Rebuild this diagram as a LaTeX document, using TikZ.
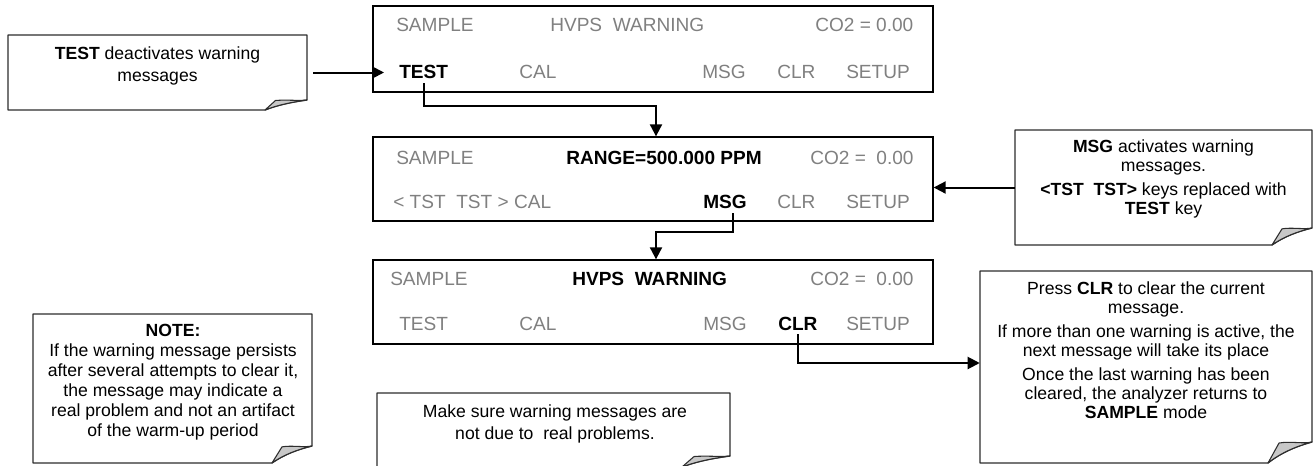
\documentclass[tikz,border=0pt]{standalone}
\usepackage{fontspec}
\setmainfont{Liberation Sans}
\usetikzlibrary{arrows.meta,calc}
\definecolor{scrgray}{RGB}{128,128,128}
\definecolor{foldgray}{RGB}{200,200,200}
\definecolor{boxline}{RGB}{45,45,45}
\newcommand\foldoutline[6]{%
  \draw[pageline] (#1,#2) -- (#3,#2) -- (#3,{#4-#6})
    .. controls ({#3-0.35*#5},{#4-0.8*#6}) and ({#3-0.7*#5},{#4-0.5*#6}) .. ({#3-#5},#4)
    -- (#1,#4) -- cycle;
  \draw[pagefold] ({#3-#5},#4) -- ({#3-0.75*#5},{#4-0.95*#6})
    .. controls ({#3-0.5*#5},{#4-1.05*#6}) and ({#3-0.2*#5},{#4-0.9*#6}) .. (#3,{#4-#6})
    .. controls ({#3-0.35*#5},{#4-0.8*#6}) and ({#3-0.7*#5},{#4-0.5*#6}) .. ({#3-#5},#4) -- cycle;
}
\tikzset{
  screen/.style={draw=black, line width=1pt, inner sep=0pt, minimum width=420pt},
  stxt/.style={anchor=base west, inner sep=0pt, text=scrgray, font=\fontsize{14.3}{17}\selectfont},
  skey/.style={anchor=base west, inner sep=0pt, text=black, font=\fontsize{14.3}{17}\selectfont\bfseries},
  cbox/.style={inner sep=0pt, draw=none},
  ctxt/.style={align=center, inner sep=0pt, font=\fontsize{13.2}{#1}\selectfont},
  conn/.style={line width=1.5pt, -{Triangle[length=9pt,width=9pt]}},
  pagefold/.style={fill=foldgray, draw=boxline, line width=0.8pt, line join=round},
  pageline/.style={fill=white, draw=boxline, line width=1pt, line join=round},
}
\begin{document}
\begin{tikzpicture}[x=0.75pt, y=-0.75pt]
\useasboundingbox (0,0) rectangle (1314,465);
% callout outlines
\foldoutline{8}{35}{307}{110}{42}{10}
\foldoutline{1015}{130}{1312}{245}{40}{17}
\foldoutline{980}{271}{1312}{463}{44}{21}
\foldoutline{33}{314}{312}{463}{40}{17}
\foldoutline{377}{393}{730}{467}{48}{11}
% callout nodes
\node[cbox, minimum width=224.25pt, minimum height=56.25pt] (cb1) at (157.5,72.5) {};
\node[cbox, minimum width=222.75pt, minimum height=86.25pt] (cb2) at (1163.5,187.5) {};
\node[cbox, minimum width=249pt, minimum height=144pt] (cb3) at (1146,367) {};
\node[cbox, minimum width=209.25pt, minimum height=111.75pt] (cb4) at (172.5,388.5) {};
\node[cbox, minimum width=264.75pt, minimum height=55.5pt] (cb5) at (553.5,430) {};
\node[ctxt=16.5] (cb1t) at (157.5,66) {\textbf{TEST} deactivates warning\\messages};
\node[ctxt=14.25] (cb2t) at (1163.5,179) {\textbf{MSG} activates warning\\messages.\\[3.75pt]\textbf{<TST\ \ TST>} keys replaced with\\\textbf{TEST} key};
\node[ctxt=14.25] (cb3t) at (1146,350) {Press \textbf{CLR} to clear the current\\message.\\[3.75pt]If more than one warning is active, the\\next message will take its place\\[3.75pt]Once the last warning has been\\cleared, the analyzer returns to\\\textbf{SAMPLE} mode};
\node[ctxt=15] (cb4t) at (173,382.5) {\textbf{NOTE:}\\If the warning message persists\\after several attempts to clear it,\\the message may indicate a\\real problem and not an artifact\\of the warm-up period};
\node[ctxt=16.5] (cb5t) at (555,424) {Make sure warning messages are\\not due to\ \ real problems.};
% screens
\node[screen, minimum height=64.5pt] (s1) at (653,49) {};
\node[screen, minimum height=63pt] (s2) at (653,179) {};
\node[screen, minimum height=63pt] (s3) at (653,302) {};
% screen 1
\node[stxt] (t1sample) at (396,31.8) {SAMPLE};
\node[stxt] (t1warn) at (550,31.8) {HVPS\ \ WARNING};
\node[stxt] (t1co) at (815,31.8) {CO2 = 0.00};
\node[skey] (t1test) at (399,78.8) {TEST};
\node[stxt] (t1cal) at (519,78.8) {CAL};
\node[stxt] (t1msg) at (702,78.8) {MSG};
\node[stxt] (t1clr) at (777,78.8) {CLR};
\node[stxt] (t1setup) at (846,78.8) {SETUP};
% screen 2
\node[stxt] (t2sample) at (396,164.8) {SAMPLE};
\node[skey] (t2range) at (566,164.8) {RANGE=500.000 PPM};
\node[stxt] (t2co) at (810,164.8) {CO2 =\ \ 0.00};
\node[stxt] (t2tst) at (393,208.8) {< TST\ \ TST > CAL};
\node[skey] (t2msg) at (703,208.8) {MSG};
\node[stxt] (t2clr) at (777,208.8) {CLR};
\node[stxt] (t2setup) at (846,208.8) {SETUP};
% screen 3
\node[stxt] (t3sample) at (390,285) {SAMPLE};
\node[skey] (t3warn) at (572,285) {HVPS\ \ WARNING};
\node[stxt] (t3co) at (810,285) {CO2 =\ \ 0.00};
\node[stxt] (t3test) at (399,330) {TEST};
\node[stxt] (t3cal) at (519,330) {CAL};
\node[stxt] (t3msg) at (703,330) {MSG};
\node[skey] (t3clr) at (778,330) {CLR};
\node[stxt] (t3setup) at (846,330) {SETUP};
% connectors
\coordinate (a1) at (384,73);
\coordinate (j1) at (656,106);
\coordinate (j2) at (656,232);
\draw[conn, shorten <=4.5pt] (cb1.east) -- (cb1.east -| a1);
\draw[conn] (cb2.west) -- (cb2.west -| s2.east);
\draw[conn, shorten <=3pt] (t1test.south) |- (j1) -- (j1 |- s2.north);
\draw[conn, shorten <=3pt] ([xshift=6pt]t2msg.south) |- (j2) -- (j2 |- s3.north);
\draw[conn, shorten <=3pt] (t3clr.south) |- ([yshift=3pt]cb3.west);
\end{tikzpicture}
\end{document}
